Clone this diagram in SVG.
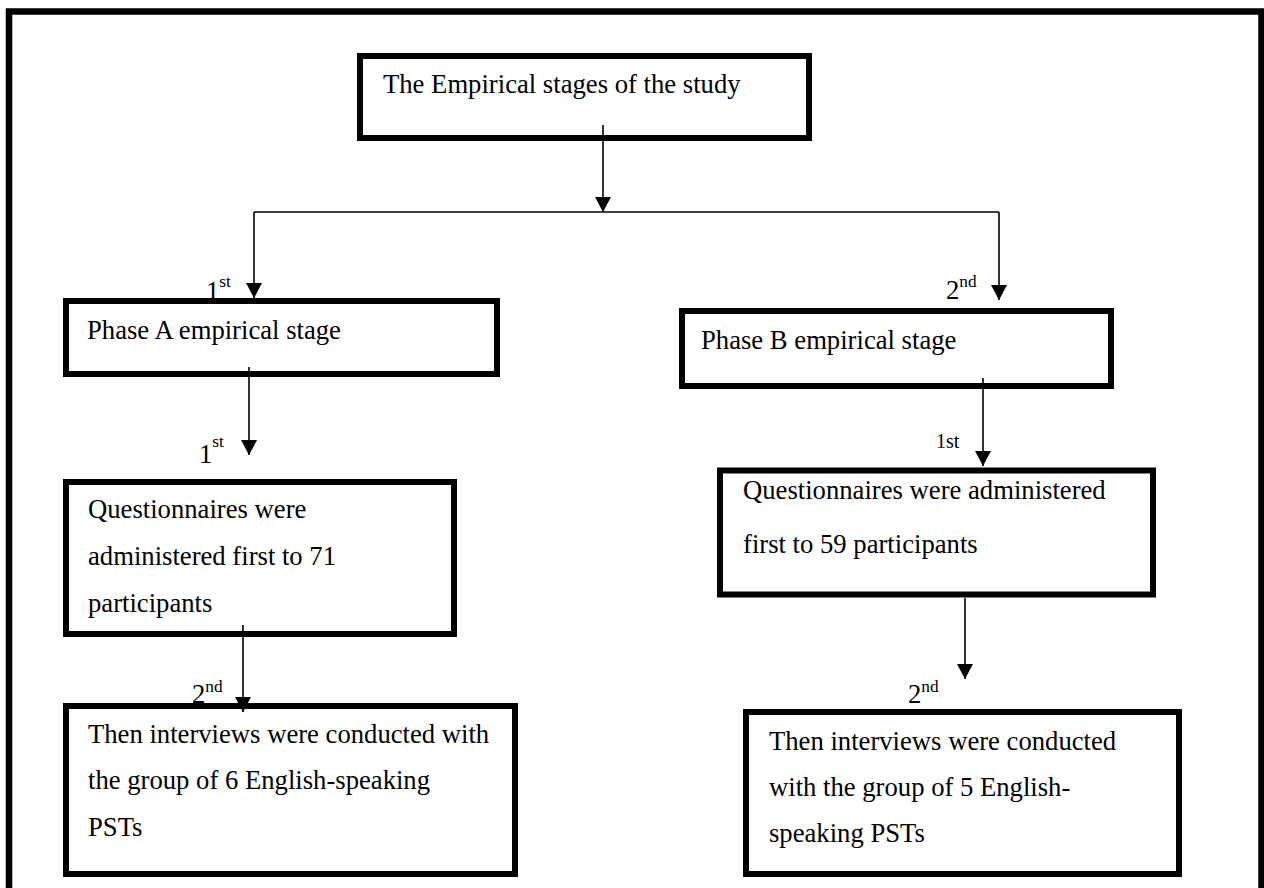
<svg xmlns="http://www.w3.org/2000/svg" width="1264" height="888" viewBox="0 0 1264 888">
<style>
.box{fill:#fff;stroke:#000;stroke-width:6}
.t{font-family:"Liberation Serif","Times New Roman",serif;font-size:26.67px;fill:#000}
.sup{font-size:17.3px}
.small{font-family:"Liberation Serif","Times New Roman",serif;font-size:20px;fill:#000}
.c{fill:none;stroke:#000;stroke-width:1.6}
</style>
<defs>
<marker id="ah" markerUnits="userSpaceOnUse" markerWidth="15" markerHeight="16" refX="15" refY="8" orient="auto">
<path d="M0,0 L15,8 L0,16 z" fill="#000"/>
</marker>
</defs>
<rect width="1264" height="888" fill="#fff"/>
<path d="M9,888 V11.5 H1261.5 V888" fill="none" stroke="#000" stroke-width="6.5"/>

<g id="n-top"><rect class="box" x="360" y="56" width="449" height="82"/>
<text class="t" x="383" y="93">The Empirical stages of the study</text></g>

<g id="n-phaseA"><rect class="box" x="66" y="301" width="431" height="73"/>
<text class="t" x="87" y="339">Phase A empirical stage</text></g>

<g id="n-phaseB"><rect class="box" x="682" y="311" width="429" height="75"/>
<text class="t" x="701" y="349">Phase B empirical stage</text></g>

<g id="n-qA"><rect class="box" x="66" y="482" width="388" height="152"/>
<text class="t" x="88" y="518">Questionnaires were</text>
<text class="t" x="88" y="565">administered first to 71</text>
<text class="t" x="88" y="611.5">participants</text></g>

<g id="n-qB"><rect class="box" x="720" y="470.5" width="433" height="124"/>
<text class="t" x="743" y="498.5">Questionnaires were administered</text>
<text class="t" x="743" y="553">first to 59 participants</text></g>

<g id="n-iA"><rect class="box" x="66" y="706" width="449" height="168"/>
<text class="t" x="88" y="742.7">Then interviews were conducted with</text>
<text class="t" x="88" y="789">the group of 6 English-speaking</text>
<text class="t" x="88" y="836">PSTs</text></g>

<g id="n-iB"><rect class="box" x="746" y="712" width="433" height="162"/>
<text class="t" x="769" y="750">Then interviews were conducted</text>
<text class="t" x="769" y="796">with the group of 5 English-</text>
<text class="t" x="769" y="842">speaking PSTs</text></g>

<g id="connectors">
<line class="c" x1="603" y1="125" x2="603" y2="212" marker-end="url(#ah)"/>
<line class="c" x1="254" y1="212" x2="999" y2="212"/>
<line class="c" x1="254" y1="212" x2="254" y2="298" marker-end="url(#ah)"/>
<line class="c" x1="999" y1="212" x2="999" y2="300" marker-end="url(#ah)"/>
<line class="c" x1="249" y1="367" x2="249" y2="455" marker-end="url(#ah)"/>
<line class="c" x1="983" y1="378" x2="983" y2="466" marker-end="url(#ah)"/>
<line class="c" x1="243" y1="625" x2="243" y2="712" marker-end="url(#ah)"/>
<line class="c" x1="965" y1="598" x2="965" y2="679" marker-end="url(#ah)"/>
</g>

<g id="labels">
<text class="t" x="206" y="300">1<tspan class="sup" dy="-13">st</tspan></text>
<text class="t" x="946" y="299">2<tspan class="sup" dy="-12">nd</tspan></text>
<text class="t" x="199" y="463">1<tspan class="sup" dy="-16">st</tspan></text>
<text class="small" x="936" y="448">1st</text>
<text class="t" x="192" y="703">2<tspan class="sup" dy="-11">nd</tspan></text>
<text class="t" x="908" y="703">2<tspan class="sup" dy="-11">nd</tspan></text>
</g>
</svg>
